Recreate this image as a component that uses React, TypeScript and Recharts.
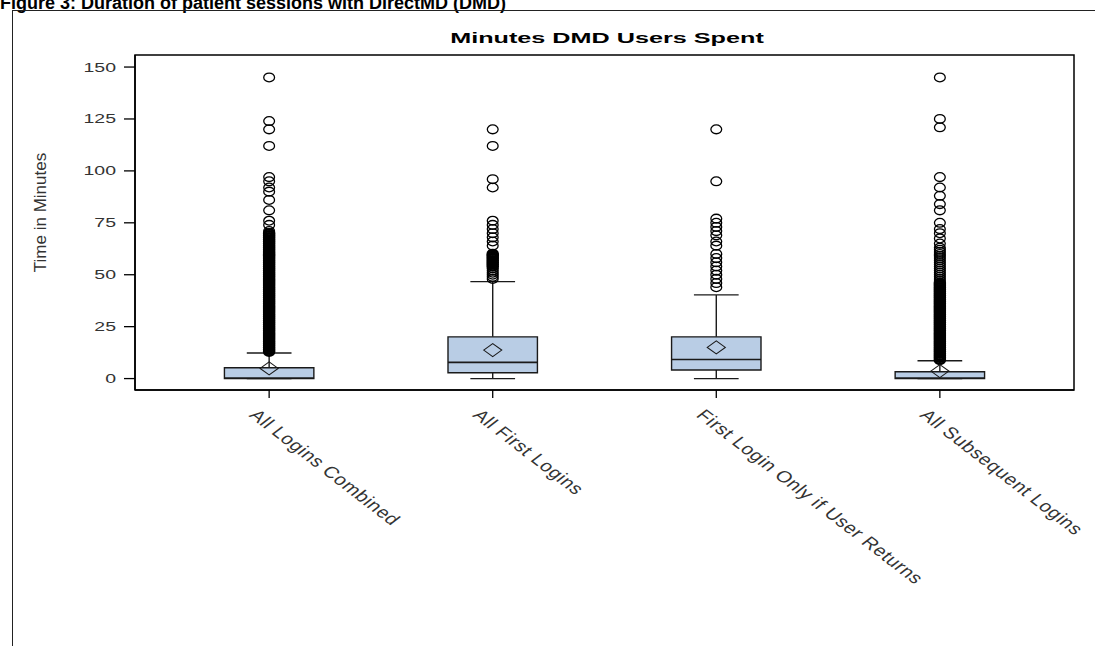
import React from 'react'
import {
  ComposedChart,
  Scatter,
  XAxis,
  YAxis,
  ReferenceArea,
  ReferenceLine
} from 'recharts'

// Box plot summary per login group (minutes)
const categories = [
  'All Logins Combined',
  'All First Logins',
  'First Login Only if User Returns',
  'All Subsequent Logins'
]
const q1Values = [0, 2.8, 4.1, 0]
const medianValues = [0.3, 7.8, 9.2, 0.3]
const q3Values = [5.2, 20.1, 20.1, 3.3]
const lowWhisker = [0, 0, 0, 0]
const highWhisker = [12.3, 46.7, 40.3, 8.6]
const meanValues = [4.9, 13.7, 15.0, 3.6]

// Outliers: separate circles...
const sparse1 = [145, 124, 120, 112, 97, 95, 92, 90, 86, 81, 76, 74, 71]
const sparse2 = [120, 112, 96, 92, 76, 74, 72, 70, 68, 66, 64, 53, 52, 51, 50, 49, 48]
const sparse3 = [120, 95, 77, 75, 73, 71, 69, 66, 64, 60, 58, 56, 54, 52, 50, 48, 46, 44]
const sparse4 = [
  145, 125, 121, 97, 92, 88, 84, 81, 75, 72, 70, 67.5, 65,
  63, 62, 61, 60, 59, 58, 57, 56, 55, 54, 53, 52, 51, 50, 49, 48, 47
]
// ...and the packed runs that print as a solid black bar
const dense1 = [
  70, 69, 68, 67, 66, 65, 64, 63, 62, 61, 60, 59, 58, 57, 56, 55, 54, 53, 52, 51,
  50, 49, 48, 47, 46, 45, 44, 43, 42, 41, 40, 39, 38, 37, 36, 35, 34, 33, 32, 31,
  30, 29, 28, 27, 26, 25, 24, 23, 22, 21, 20, 19, 18, 17, 16, 15, 14, 13
]
const dense2 = [60, 59, 58, 57, 56, 55, 54]
const dense3: number[] = []
const dense4 = [
  46, 45, 44, 43, 42, 41, 40, 39, 38, 37, 36, 35, 34, 33, 32, 31, 30, 29, 28, 27,
  26, 25, 24, 23, 22, 21, 20, 19, 18, 17, 16, 15, 14, 13, 12, 11, 10, 9
]
const sparseGroups = [sparse1, sparse2, sparse3, sparse4]
const denseGroups = [dense1, dense2, dense3, dense4]

const yTicks = [0, 25, 50, 75, 100, 125, 150]
const xTicks = [1, 2, 3, 4]

const FONT = '"Liberation Sans", Arial, sans-serif'
const BOX_FILL = '#B9CDE5'
const INK = '#1a1a1a'

const toPoints = (groups: number[][]) =>
  groups.flatMap((list, i) => list.map((v) => ({ x: i + 1, y: v })))
const sparseData = toPoints(sparseGroups)
const denseData = toPoints(denseGroups)
const meanData = meanValues.map((v, i) => ({ x: i + 1, y: v }))

const YTick = ({ x, y, payload }: any) => (
  <text
    transform={`translate(${x},${y}) scale(1.5,1)`}
    textAnchor="end"
    dy={4.5}
    fontSize={13}
    fontFamily={FONT}
    fill="#333"
  >
    {payload.value}
  </text>
)

const XTick = ({ x, y, payload }: any) => (
  <text
    transform={`translate(${x - 21},${y + 18}) scale(1.3,1) rotate(45)`}
    textAnchor="start"
    fontSize={16}
    letterSpacing={0.5}
    fontFamily={FONT}
    fill="#333"
  >
    {categories[payload.value - 1]}
  </text>
)

const OutlierShape = ({ cx, cy }: any) => (
  <ellipse cx={cx} cy={cy} rx={5.4} ry={4.4} fill="none" stroke="#000" strokeWidth={1.3} />
)

const DenseShape = ({ cx, cy }: any) => (
  <ellipse cx={cx} cy={cy} rx={5} ry={4} fill="none" stroke="#000" strokeWidth={2.6} />
)

const MeanShape = ({ cx, cy }: any) => (
  <polygon
    points={`${cx - 9},${cy} ${cx},${cy - 6.5} ${cx + 9},${cy} ${cx},${cy + 6.5}`}
    fill="none"
    stroke={INK}
    strokeWidth={1.1}
  />
)

export default function App() {
  return (
    <div style={{ position: 'absolute', left: 0, top: 0, width: 1095, height: 646, overflow: 'hidden', background: '#fff' }}>
      {/* figure caption, clipped at the top like the source page */}
      <div
        style={{
          position: 'absolute',
          left: 0,
          top: -6.5,
          fontFamily: FONT,
          fontWeight: 'bold',
          fontSize: 18,
          lineHeight: '18px',
          whiteSpace: 'nowrap',
          color: '#000'
        }}
      >
        Figure 3: Duration of patient sessions with DirectMD (DMD)
      </div>
      {/* page frame */}
      <div
        style={{
          position: 'absolute',
          left: 12,
          top: 10,
          width: 1200,
          height: 1000,
          border: '1.4px solid #222'
        }}
      />
      <div
        style={{
          position: 'absolute',
          left: 407,
          top: 30,
          width: 400,
          textAlign: 'center',
          fontFamily: FONT,
          fontWeight: 'bold',
          fontSize: 15,
          lineHeight: '15px',
          transform: 'scaleX(1.68)',
          transformOrigin: 'center',
          color: '#000'
        }}
      >
        Minutes DMD Users Spent
      </div>
      <div
        style={{
          position: 'absolute',
          left: -60,
          top: 204,
          width: 200,
          textAlign: 'center',
          fontFamily: FONT,
          fontSize: 17,
          lineHeight: '17px',
          transform: 'rotate(-90deg)',
          transformOrigin: 'center',
          color: '#333'
        }}
      >
        Time in Minutes
      </div>
      <div style={{ position: 'absolute', left: 0, top: 0 }}>
        <ComposedChart
          width={1095}
          height={646}
          margin={{ top: 55, right: 21, bottom: 56, left: 75 }}
        >
          <XAxis
            type="number"
            dataKey="x"
            domain={[0.4, 4.6]}
            ticks={xTicks}
            allowDataOverflow
            height={200}
            tickSize={8}
            tickMargin={0}
            tick={<XTick />}
            axisLine={{ stroke: '#000', strokeWidth: 1.5 }}
            tickLine={{ stroke: '#000', strokeWidth: 1.3 }}
          />
          <YAxis
            type="number"
            dataKey="y"
            domain={[-5.5, 155.8]}
            ticks={yTicks}
            allowDataOverflow
            width={60}
            tickSize={11}
            tickMargin={8}
            tick={<YTick />}
            axisLine={{ stroke: '#000', strokeWidth: 1.5 }}
            tickLine={{ stroke: '#000', strokeWidth: 1.3 }}
          />
          {/* plot frame */}
          <ReferenceArea
            x1={0.4}
            x2={4.6}
            y1={-5.5}
            y2={155.8}
            fill="none"
            stroke="#000"
            strokeWidth={1.5}
            ifOverflow="visible"
          />
          {categories.map((c, i) => (
            <ReferenceLine
              key={`lw-${c}`}
              segment={[{ x: i + 1, y: lowWhisker[i] }, { x: i + 1, y: q1Values[i] }]}
              stroke={INK}
              strokeWidth={1.4}
              ifOverflow="visible"
            />
          ))}
          {categories.map((c, i) => (
            <ReferenceLine
              key={`lc-${c}`}
              segment={[{ x: i + 0.9, y: lowWhisker[i] }, { x: i + 1.1, y: lowWhisker[i] }]}
              stroke={INK}
              strokeWidth={1.4}
              ifOverflow="visible"
            />
          ))}
          {categories.map((c, i) => (
            <ReferenceLine
              key={`hw-${c}`}
              segment={[{ x: i + 1, y: q3Values[i] }, { x: i + 1, y: highWhisker[i] }]}
              stroke={INK}
              strokeWidth={1.4}
              ifOverflow="visible"
            />
          ))}
          {categories.map((c, i) => (
            <ReferenceLine
              key={`hc-${c}`}
              segment={[{ x: i + 0.9, y: highWhisker[i] }, { x: i + 1.1, y: highWhisker[i] }]}
              stroke={INK}
              strokeWidth={1.4}
              ifOverflow="visible"
            />
          ))}
          {categories.map((c, i) => (
            <ReferenceArea
              key={`box-${c}`}
              x1={i + 0.8}
              x2={i + 1.2}
              y1={q1Values[i]}
              y2={q3Values[i]}
              fill={BOX_FILL}
              fillOpacity={1}
              stroke={INK}
              strokeWidth={1.4}
              ifOverflow="visible"
            />
          ))}
          {categories.map((c, i) => (
            <ReferenceLine
              key={`med-${c}`}
              segment={[{ x: i + 0.8, y: medianValues[i] }, { x: i + 1.2, y: medianValues[i] }]}
              stroke={INK}
              strokeWidth={1.6}
              ifOverflow="visible"
            />
          ))}
          <Scatter
            data={denseData}
            shape={<DenseShape />}
            isAnimationActive={false}
          />
          <Scatter
            data={sparseData}
            shape={<OutlierShape />}
            isAnimationActive={false}
          />
          <Scatter
            data={meanData}
            shape={<MeanShape />}
            isAnimationActive={false}
          />
        </ComposedChart>
      </div>
    </div>
  )
}
